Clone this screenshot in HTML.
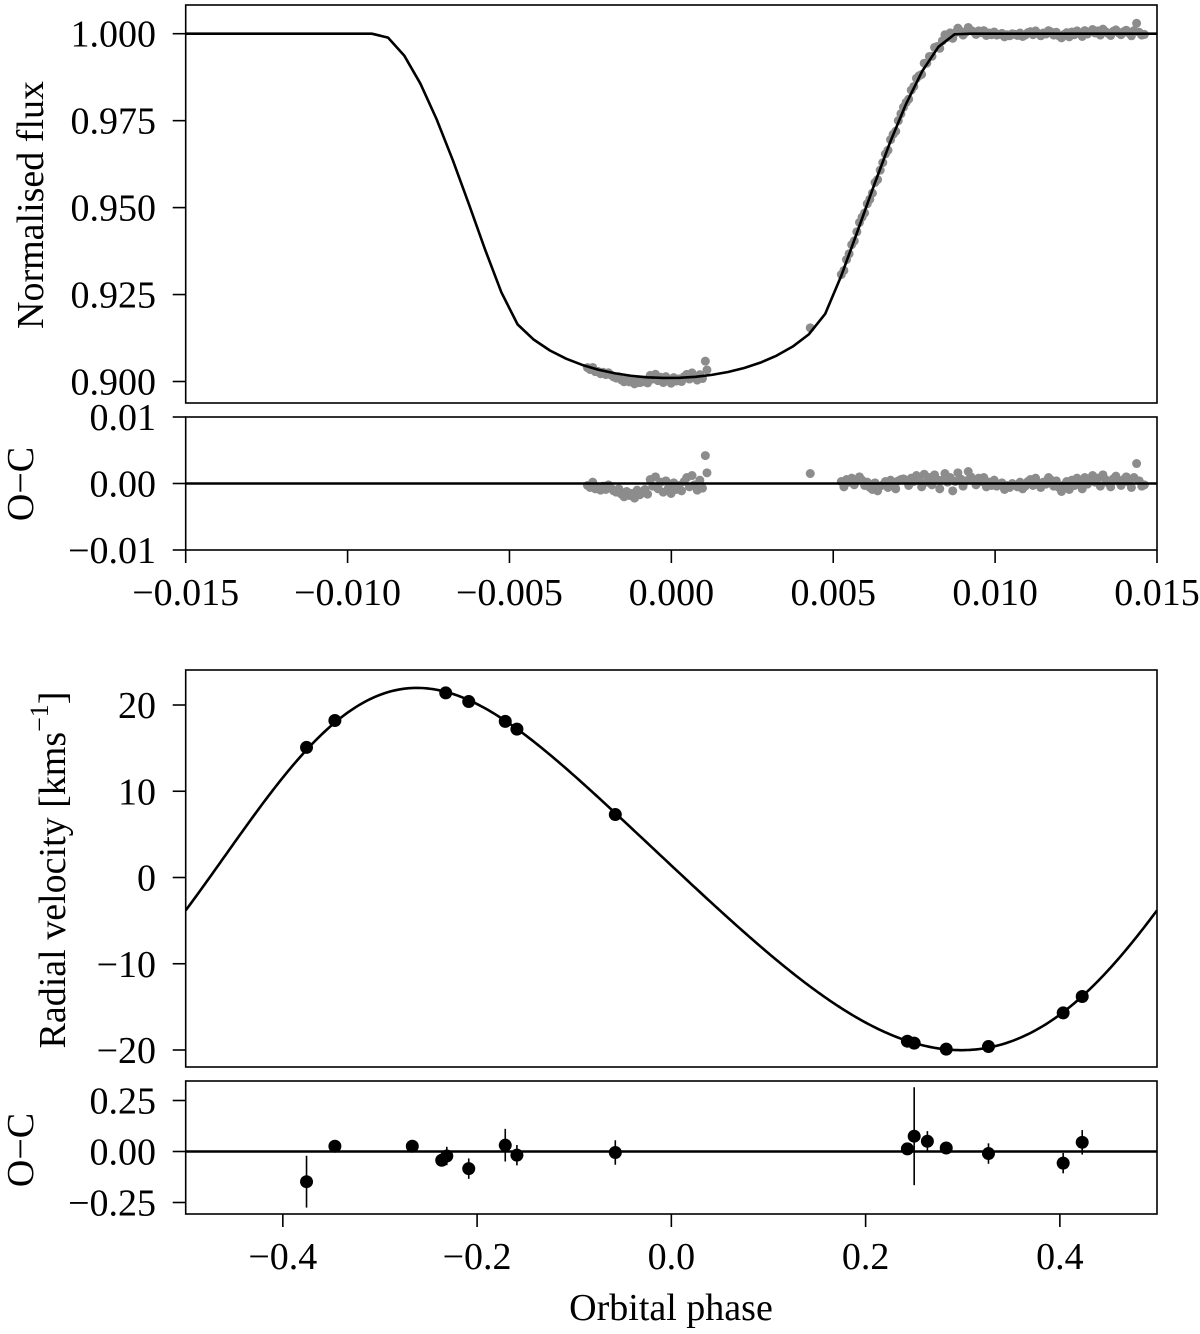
<!DOCTYPE html>
<html><head><meta charset="utf-8"><style>
html,body{margin:0;padding:0;background:#fff;}
svg{display:block;}
text{font-family:"Liberation Serif","Times New Roman",Times,"DejaVu Serif",serif;}
</style></head><body>
<svg id="fig" width="1200" height="1334" viewBox="0 0 1200 1334" xmlns="http://www.w3.org/2000/svg"></svg>
<script>
// ---------- Light curve data ----------
const lcTicksY = [1.000, 0.975, 0.950, 0.925, 0.900];
const lcTickLabelsY = ["1.000", "0.975", "0.950", "0.925", "0.900"];
const lcOcTicksY = [0.01, 0.00, -0.01];
const lcOcTickLabelsY = ["0.01", "0.00", "\u22120.01"];
const lcTicksX = [-0.015, -0.010, -0.005, 0.000, 0.005, 0.010, 0.015];
const lcTickLabelsX = ["\u22120.015", "\u22120.010", "\u22120.005", "0.000", "0.005", "0.010", "0.015"];
// transit model parameters
const lcCenter = -0.0001, lcHalfT14 = 0.0089, lcHalfT23 = 0.0047, lcDepth = 0.099, lcLD1 = 0.4, lcLD2 = 0.25;
const lcModelStart = -0.01525, lcModelStep = 0.0005, lcModelN = 62;
// observation cadence
const lcStartA = -0.00259, lcCadenceA = 0.0000807;
const lcStartB = 0.00525, lcCadenceB = 0.00008;
// residuals (parts per thousand)
const lcResidA = [-0.3,-0.6,0.2,-0.8,-0.5,-1.0,-0.4,-0.9,-0.2,-0.7,-1.1,
  -1.3,-0.8,-1.6,-2.0,-1.2,-1.8,-1.5,-2.2,-1.0,-1.7,-1.4,-0.9,-1.6,
  0.6,-0.4,1.0,-0.8,0.2,-1.3,0.4,-0.6,-1.5,0.1,-0.9,-0.3,-1.1,0.3,0.9,-0.5,1.2,-0.2,-1.0,0.5,-0.7];
const lcExtraPhase = [0.00105, 0.0011, 0.00429];
const lcExtraResid = [4.2, 1.6, 1.5];
const lcResidB = [0.3,-0.5,0.6,0.2,0.8,-0.2,0.4,1.0,0.5,-0.3,0.2,-0.6,
  -0.9,0.1,-1.1,-0.4,-0.2,0.3,-0.6,0.5,0.2,-0.8,0.4,0.6,
  0.7,0.4,-0.3,0.8,0.3,1.2,0.5,-0.5,1.4,0.2,0.9,-0.2,
  1.3,0.6,-0.8,0.5,1.5,0.2,0.9,-1.1,0.3,1.6,0.7,-0.4,
  0.4,1.8,1.0,0.6,-0.2,0.8,0.3,0.9,-0.5,0.2,-0.3,0.5,
  -0.4,-0.2,0.1,-0.9,-0.3,-0.6,0.0,-0.2,-0.5,0.2,-0.8,-0.4,
  0.3,0.6,-0.3,0.8,0.1,-0.6,0.2,-0.1,0.9,0.5,-0.4,0.4,
  -0.6,-1.2,-0.2,0.3,-0.9,0.5,-0.3,0.8,0.2,-0.8,0.9,-0.1,
  0.5,1.2,0.2,0.8,-0.4,1.3,0.6,0.1,-0.5,0.7,1.1,0.3,
  -0.3,0.6,1.0,0.2,-0.6,0.9,3.0,0.4,-0.4,-0.2];

// ---------- Radial velocity data ----------
const rvPhase = [-0.3756,-0.3464,-0.2323,-0.2086,-0.171,-0.159,-0.0577,0.243,0.25,0.283,0.3265,0.4034,0.423];
const rvVel = [15.08,18.2,21.4,20.4,18.1,17.2,7.3,-18.98,-19.2,-19.9,-19.6,-15.7,-13.8];
const ocPhase = [-0.3756,-0.3464,-0.2667,-0.2364,-0.2312,-0.2086,-0.171,-0.159,-0.0577,0.243,0.25,0.2636,0.283,0.3265,0.4034,0.423];
const ocVal = [-0.148,0.026,0.026,-0.043,-0.022,-0.084,0.031,-0.018,-0.005,0.013,0.075,0.05,0.017,-0.01,-0.057,0.045];
const ocErr = [0.127,0.02,0.02,0.02,0.045,0.05,0.08,0.05,0.06,0.02,0.24,0.05,0.02,0.05,0.05,0.06];
const rvModelPhase = [-0.5,-0.4546,-0.403,-0.3756,-0.346,-0.3137,-0.2656,-0.2323,-0.2086,-0.171,-0.128,-0.0938,-0.0577,-0.025,0.0093,0.040,0.0918,0.1433,0.195,0.243,0.283,0.3013,0.3265,0.3667,0.4034,0.423,0.462,0.5];
const rvModelVel = [-3.7,3.2,10.9,15.1,18.2,20.3,21.9,21.5,20.5,18.2,14.8,11.2,7.3,3.8,0.5,-2.7,-7.9,-12.7,-16.6,-19.0,-19.9,-20.0,-19.6,-18.2,-15.7,-13.8,-9.2,-3.8];
const rvTicksY = [20,10,0,-10,-20];
const rvTickLabelsY = ["20","10","0","\u221210","\u221220"];
const rvOcTicksY = [0.25,0,-0.25];
const rvOcTickLabelsY = ["0.25","0.00","\u22120.25"];
const rvTicksX = [-0.4,-0.2,0,0.2,0.4];
const rvTickLabelsX = ["\u22120.4","\u22120.2","0.0","0.2","0.4"];

// ---------- helpers ----------
const NS = "http://www.w3.org/2000/svg";
const svg = document.getElementById("fig");
const FONT = "'Liberation Serif', 'Times New Roman', Times, 'DejaVu Serif', serif";
function mk(tag, attrs, parent) {
  const e = document.createElementNS(NS, tag);
  for (const k in attrs) e.setAttribute(k, attrs[k]);
  if (tag === "text") e.setAttribute("font-family", FONT);
  (parent || svg).appendChild(e);
  return e;
}
function lin(d0, d1, r0, r1) { return v => r0 + (v - d0) / (d1 - d0) * (r1 - r0); }
const FS = 38;
const L = 185.7, R = 1157;

function frame(top, bottom, name) {
  const r = mk("rect", {x: L, y: top, width: R - L, height: bottom - top, fill: "none", stroke: "#000", "stroke-width": 1.6});
  
  
}
function yTicks(vals, labels, sy, name) {
  const g = mk("g", {});
  
  
  vals.forEach((v, i) => {
    const y = sy(v);
    mk("line", {x1: L - 13, x2: L, y1: y, y2: y, stroke: "#000", "stroke-width": 1.6}, g);
    const t = mk("text", {x: 156, y: y + 13, "text-anchor": "end", "font-size": FS}, g);
    t.textContent = labels[i];
    
    
  });
}
function xTicks(vals, labels, sx, bottom, name) {
  const g = mk("g", {});
  
  
  vals.forEach((v, i) => {
    const x = sx(v);
    mk("line", {x1: x, x2: x, y1: bottom, y2: bottom + 13, stroke: "#000", "stroke-width": 1.6}, g);
    const t = mk("text", {x: x, y: bottom + 55, "text-anchor": "middle", "font-size": FS}, g);
    t.textContent = labels[i];
    
    
  });
}
function vLabel(txt, cx, cy, name) {
  const t = mk("text", {x: 0, y: 0, "text-anchor": "middle", "dominant-baseline": "central", "font-size": FS, transform: `translate(${cx},${cy}) rotate(-90)`});
  t.textContent = txt;
  
  
  return t;
}

// ---------- transit model ----------
const lcP = (1 - lcHalfT23 / lcHalfT14) / (1 + lcHalfT23 / lcHalfT14);
function rawLoss(phi) {
  const z = Math.abs(phi - lcCenter) / lcHalfT14 * (1 + lcP);
  if (z >= 1 + lcP) return 0;
  const n = 50, h = 2 * lcP / n;
  let s = 0;
  for (let i = 0; i < n; i++) {
    const x = z - lcP + (i + 0.5) * h;
    for (let j = 0; j < n; j++) {
      const y = -lcP + (j + 0.5) * h;
      if ((x - z) * (x - z) + y * y > lcP * lcP) continue;
      const r2 = x * x + y * y;
      if (r2 >= 1) continue;
      const mu = Math.sqrt(1 - r2);
      s += 1 - lcLD1 * (1 - mu) - lcLD2 * (1 - mu) * (1 - mu);
    }
  }
  return s * h * h / (Math.PI * (1 - lcLD1 / 3 - lcLD2 / 6));
}
const loss0 = rawLoss(lcCenter);
function lcModel(phi) { return 1 - lcDepth * rawLoss(phi) / loss0; }

// ---------- Panel 1: light curve ----------
const lcTop = 5, lcBot = 403, ocTop = 417, ocBot = 550;
const sxL = lin(-0.015, 0.015, L, R);
const syL = lin(0.900, 1.000, 381.5, 33.7);
const syO = lin(-0.01, 0.01, ocBot, ocTop);

const clip = mk("defs", {});
const cp1 = mk("clipPath", {id: "c1"}, clip); mk("rect", {x: L, y: lcTop, width: R - L, height: lcBot - lcTop}, cp1);
const cp2 = mk("clipPath", {id: "c2"}, clip); mk("rect", {x: L, y: ocTop, width: R - L, height: ocBot - ocTop}, cp2);
const cp3 = mk("clipPath", {id: "c3"}, clip); mk("rect", {x: L, y: 670, width: R - L, height: 397}, cp3);

const lcPh = [], lcRes = [];
lcResidA.forEach((r, i) => { lcPh.push(lcStartA + i * lcCadenceA); lcRes.push(r / 1000); });
lcExtraPhase.forEach((p, i) => { lcPh.push(p); lcRes.push(lcExtraResid[i] / 1000); });
lcResidB.forEach((r, i) => { lcPh.push(lcStartB + i * lcCadenceB); lcRes.push(r / 1000); });

const gLcPts = mk("g", {"clip-path": "url(#c1)", fill: "#8c8c8c"});


lcPh.forEach((p, i) => {
  const c = mk("circle", {cx: sxL(p), cy: syL(lcModel(p) + lcRes[i]), r: 4.5}, gLcPts);
  
  
});
let d = "";
for (let i = 0; i < lcModelN; i++) {
  const p = lcModelStart + i * lcModelStep;
  d += (i ? "L" : "M") + sxL(p).toFixed(2) + "," + syL(lcModel(p)).toFixed(2);
}
const lcLine = mk("path", {d: d, fill: "none", stroke: "#000", "stroke-width": 2.6, "clip-path": "url(#c1)", "stroke-linejoin": "round"});


frame(lcTop, lcBot, "light-curve-axes");
yTicks(lcTicksY, lcTickLabelsY, syL, "flux-y-ticks");
vLabel("Normalised flux", 31, 205, "flux-y-axis-title");

const gOc1 = mk("g", {"clip-path": "url(#c2)", fill: "#8c8c8c"});


lcPh.forEach((p, i) => {
  const c = mk("circle", {cx: sxL(p), cy: syO(lcRes[i]), r: 4.5}, gOc1);
  
  
});
const z1 = mk("line", {x1: L, x2: R, y1: syO(0), y2: syO(0), stroke: "#000", "stroke-width": 2.4});


frame(ocTop, ocBot, "flux-residual-axes");
yTicks(lcOcTicksY, lcOcTickLabelsY, syO, "flux-residual-y-ticks");
xTicks(lcTicksX, lcTickLabelsX, sxL, ocBot, "flux-x-ticks");
vLabel("O\u2212C", 21, 484, "flux-residual-y-axis-title");

// ---------- Panel 2: radial velocity ----------
const rvTop = 670, rvBot = 1067, rocTop = 1081, rocBot = 1214;
const sxR = lin(-0.5, 0.5, L, R);
const syR = lin(-20, 20, 1050, 705);
const syRO = lin(-0.25, 0.25, 1202.5, 1100.5);

const NH = 3, NP = 2 * NH + 1;
function basis(p) {
  const b = [1];
  for (let k = 1; k <= NH; k++) { b.push(Math.cos(2 * Math.PI * k * p)); b.push(Math.sin(2 * Math.PI * k * p)); }
  return b;
}
const A = Array.from({length: NP}, () => new Array(NP).fill(0));
const B = new Array(NP).fill(0);
rvModelPhase.forEach((p, i) => {
  const b = basis(p);
  for (let r = 0; r < NP; r++) { B[r] += b[r] * rvModelVel[i]; for (let c = 0; c < NP; c++) A[r][c] += b[r] * b[c]; }
});
for (let c = 0; c < NP; c++) {
  let piv = c;
  for (let r = c + 1; r < NP; r++) if (Math.abs(A[r][c]) > Math.abs(A[piv][c])) piv = r;
  [A[c], A[piv]] = [A[piv], A[c]]; [B[c], B[piv]] = [B[piv], B[c]];
  for (let r = 0; r < NP; r++) {
    if (r === c) continue;
    const f = A[r][c] / A[c][c];
    for (let k = c; k < NP; k++) A[r][k] -= f * A[c][k];
    B[r] -= f * B[c];
  }
}
const coef = B.map((v, i) => v / A[i][i]);
function rvModel(p) { return basis(p).reduce((s, b, i) => s + b * coef[i], 0); }
let dr = "";
for (let i = 0; i <= 400; i++) {
  const p = -0.5 + i / 400;
  dr += (i ? "L" : "M") + sxR(p).toFixed(2) + "," + syR(rvModel(p)).toFixed(2);
}
const rvLine = mk("path", {d: dr, fill: "none", stroke: "#000", "stroke-width": 2.6, "clip-path": "url(#c3)"});


const gRv = mk("g", {fill: "#000"});


rvPhase.forEach((p, i) => {
  const c = mk("circle", {cx: sxR(p), cy: syR(rvVel[i]), r: 6.5}, gRv);
  
  
});
frame(rvTop, rvBot, "rv-axes");
yTicks(rvTicksY, rvTickLabelsY, syR, "rv-y-ticks");
const rvT = vLabel("", 53, 870, "rv-y-axis-title");
rvT.appendChild(document.createTextNode("Radial velocity [kms"));
const sup = mk("tspan", {"font-size": 26, dy: -14}, rvT); sup.textContent = "\u22121";
const cl = mk("tspan", {dy: 14}, rvT); cl.textContent = "]";

const z2 = mk("line", {x1: L, x2: R, y1: syRO(0), y2: syRO(0), stroke: "#000", "stroke-width": 2.4});


const gRo = mk("g", {});


ocPhase.forEach((p, i) => {
  const x = sxR(p);
  const eb = mk("line", {x1: x, x2: x, y1: syRO(ocVal[i] - ocErr[i]), y2: syRO(ocVal[i] + ocErr[i]), stroke: "#000", "stroke-width": 1.6}, gRo);
  
  
  const c = mk("circle", {cx: x, cy: syRO(ocVal[i]), r: 6.5, fill: "#000"}, gRo);
  
  
});
frame(rocTop, rocBot, "rv-residual-axes");
yTicks(rvOcTicksY, rvOcTickLabelsY, syRO, "rv-residual-y-ticks");
xTicks(rvTicksX, rvTickLabelsX, sxR, rocBot, "rv-x-ticks");
vLabel("O\u2212C", 21, 1150, "rv-residual-y-axis-title");
const xl = mk("text", {x: 671, y: 1320, "text-anchor": "middle", "font-size": FS});
xl.textContent = "Orbital phase";


</script>
</body></html>
